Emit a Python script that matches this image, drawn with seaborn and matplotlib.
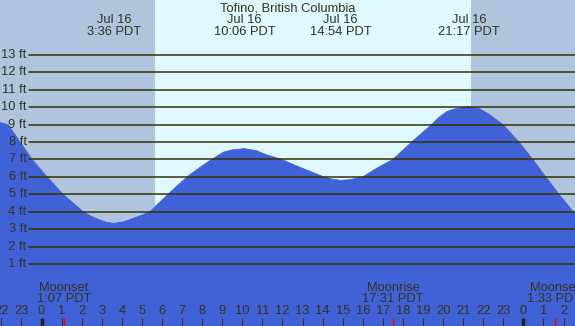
import matplotlib
matplotlib.use("Agg")
import matplotlib.pyplot as plt
import seaborn as sns

# tide height (ft), hours since Jul 16 00:00
hours = [-2.07, -1.67, -1.07, -0.47, 0.27, 1.07, 2.07, 2.5, 2.91, 3.2, 3.6,
         4.1, 4.57, 5.0, 5.40, 6.30, 7.25, 7.9, 8.48, 9.05, 9.5, 10.1, 10.7,
         11.21, 11.96, 12.6, 13.21, 14.03, 14.5, 14.9, 15.3, 15.70, 16.01,
         16.69, 17.50, 18.44, 19.43, 19.8, 20.18, 20.5, 20.9, 21.28, 21.8,
         22.34, 22.98, 23.78, 24.46, 25.11, 25.77, 26.48, 26.57]
heights = [9.11, 9.0, 8.0, 7.0, 6.0, 5.0, 4.0, 3.72, 3.52, 3.40, 3.33,
           3.42, 3.62, 3.80, 4.0, 5.0, 6.0, 6.55, 7.0, 7.41, 7.55, 7.62, 7.50,
           7.26, 7.0, 6.68, 6.39, 6.01, 5.86, 5.80, 5.83, 5.92, 6.0,
           6.49, 7.0, 8.0, 9.0, 9.42, 9.74, 9.87, 9.98, 10.03, 9.92,
           9.55, 9.0, 8.0, 7.0, 6.0, 5.0, 4.0, 3.93]

extreme_times = [3.6, 10.1, 14.9, 21.283]
extreme_labels = ["3:36 PDT", "10:06 PDT", "14:54 PDT", "21:17 PDT"]
extreme_date = "Jul 16"

moon_times = [1.117, 17.517, 25.55]
moon_labels = ["Moonset\n1:07 PDT", "Moonrise\n17:31 PDT", "Moonset\n1:33 PDT"]

sunrise, sunset = 5.65, 21.39
grid_ft = list(range(1, 14))
hour_ticks = list(range(-2, 27))

title = "Tofino, British Columbia"

x0, x1 = -2.07, 26.57
y0, y1 = -2.56, 16.15

water = "#4062d6"
day = "#e0f8ff"
night = "#b0c4de"
ink = "#333322"
gridc = "#333300"
fs = 9.3

sns.set_style("white")
plt.rcParams["font.family"] = ["Liberation Sans", "DejaVu Sans"]

fig = plt.figure(figsize=(5.75, 3.26), dpi=100)
ax = fig.add_axes([0, 0, 1, 1])
ax.set_xlim(x0, x1)
ax.set_ylim(y0, y1)
ax.set_facecolor(day)

ax.axvspan(x0, sunrise, color=night, lw=0, zorder=0)
ax.axvspan(sunset, x1, color=night, lw=0, zorder=0)

ax.fill_between(hours, heights, y0, color=water, lw=0, zorder=1)
sns.lineplot(x=hours, y=heights, ax=ax, color=water, lw=0.6, zorder=1,
             sort=False)

for ft in grid_ft:
    ax.axhline(ft, xmin=29 / 575, xmax=1, color=gridc, lw=1.1, zorder=2)
    ax.text(-0.75, ft, f"{ft} ft", ha="right", va="center", fontsize=fs,
            color=ink, zorder=3)

xt = ax.get_xaxis_transform()
ax.text(0.5, 0.975, title, transform=ax.transAxes, ha="center", va="center",
        fontsize=fs, color=ink)
for t, lab in zip(extreme_times, extreme_labels):
    ax.text(t, 1 - 20 / 326, extreme_date, transform=xt, ha="center",
            va="center", fontsize=fs, color=ink)
    ax.text(t, 1 - 32 / 326, lab, transform=xt, ha="center", va="center",
            fontsize=fs, color=ink)

for t, lab in zip(moon_times, moon_labels):
    ax.text(t, 1 - 293.5 / 326, lab, transform=xt, ha="center", va="center",
            fontsize=fs, color=ink, linespacing=0.95)
    ax.vlines(t, 0, 8 / 326, transform=xt, color="red", lw=1.0, zorder=4)

for h in hour_ticks:
    ax.text(h, 1 - 311.5 / 326, str(h % 24), transform=xt, ha="center",
            va="center", fontsize=fs, color=ink)
    thick = h % 24 == 0
    ax.vlines(h, 0, 8 / 326, transform=xt, color="#222" if thick else ink,
              lw=2.5 if thick else 0.8, zorder=3)

ax.set_xticks([])
ax.set_yticks([])
for s in ax.spines.values():
    s.set_visible(False)

fig.savefig("out.png", dpi=100)
